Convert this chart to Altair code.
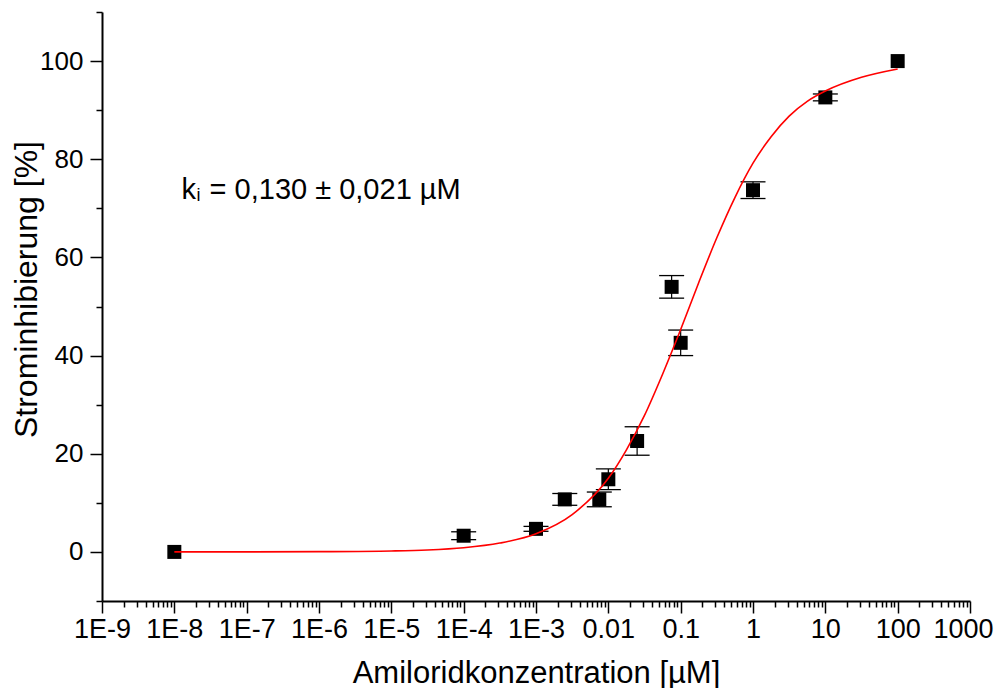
import altair as alt
import pandas as pd

# measured points (concentration in µM, inhibition in %, error)
conc = [1e-8, 1e-4, 1e-3, 2.5e-3, 7.5e-3, 1e-2, 2.5e-2, 7.5e-2, 1e-1, 1.0, 10.0, 100.0]
inhib = [0.0, 3.3, 4.7, 10.7, 10.7, 14.8, 22.6, 54.0, 42.6, 73.7, 92.6, 100.0]
err = [0.0, 0.8, 0.5, 1.2, 1.5, 2.1, 2.9, 2.3, 2.6, 1.7, 0.7, 0.0]

# fitted curve
fit_conc = [1e-8, 1e-7, 1e-6, 1e-5, 3.16e-5, 1e-4, 3.16e-4, 1e-3, 3.16e-3, 1e-2,
            1.78e-2, 3.16e-2, 5.62e-2, 0.1, 0.178, 0.316, 0.562, 1.0, 1.78,
            3.16, 5.62, 10.0, 31.6, 100.0]
fit_inhib = [0.0, 0.0, 0.05, 0.2, 0.4, 0.85, 1.8, 3.7, 7.6, 15.0,
             20.8, 27.8, 36.2, 45.3, 54.9, 64.0, 72.2, 79.2, 84.6,
             88.8, 91.8, 93.9, 96.7, 98.4]

x_major_ticks = [1e-9, 1e-8, 1e-7, 1e-6, 1e-5, 1e-4, 1e-3, 1e-2, 1e-1, 1.0, 10.0, 100.0, 1000.0]
x_tick_labels = ["1E-9", "1E-8", "1E-7", "1E-6", "1E-5", "1E-4", "1E-3",
                 "0.01", "0.1", "1", "10", "100", "1000"]
y_ticks = [-10, 0, 10, 20, 30, 40, 50, 60, 70, 80, 90, 100, 110]

annotation_main = "k"
annotation_sub = "i"
annotation_rest = "= 0,130 \u00b1 0,021 \u00b5M"

FONT = "Liberation Sans"

# minor ticks 2..9 per decade
x_tick_values = []
for m in x_major_ticks:
    x_tick_values.append(m)
    if m < 1000:
        for k in range(2, 10):
            x_tick_values.append(float(f"{m * k:.3g}"))

pts = pd.DataFrame({"conc": conc, "inhib": inhib, "err": err})
pts["lo"] = pts["inhib"] - pts["err"]
pts["hi"] = pts["inhib"] + pts["err"]
fit = pd.DataFrame({"conc": fit_conc, "inhib": fit_inhib})

is_major_x = "abs(log(datum.value)/LN10 - round(log(datum.value)/LN10)) < 0.001"
labels_js = "[" + ",".join(f"'{s}'" for s in x_tick_labels) + "]"
x_label_expr = f"({is_major_x}) ? {labels_js}[round(log(datum.value)/LN10)+9] : ''"

is_major_y = "datum.value % 20 == 0 && datum.value >= 0 && datum.value <= 100"

xscale = alt.Scale(type="log", domain=[1e-9, 1000], nice=False)
yscale = alt.Scale(domain=[-10, 110], nice=False, zero=False)

xaxis = alt.Axis(
    title="Amiloridkonzentration [µM]",
    values=x_tick_values,
    labelExpr=x_label_expr,
    tickSize={"condition": {"test": is_major_x, "value": 12}, "value": 6},
    tickWidth=1.5,
    tickColor="black",
    domainColor="black",
    domainWidth=2,
    labelFont=FONT,
    labelFontSize=27,
    labelOffset={"condition": {"test": "datum.value > 500", "value": -7}, "value": 0},
    labelColor="black",
    labelPadding=3,
    labelOverlap=False,
    labelFlush=False,
    titleFont=FONT,
    titleFontSize=31,
    titleFontWeight="normal",
    titleColor="black",
    titleY=81,
    titleBaseline="alphabetic",
    grid=False,
)

yaxis = alt.Axis(
    title="Strominhibierung [%]",
    values=y_ticks,
    labelExpr=f"({is_major_y}) ? datum.label : ''",
    tickSize={"condition": {"test": is_major_y, "value": 12}, "value": 6},
    tickWidth=1.5,
    tickColor="black",
    domainColor="black",
    domainWidth=2,
    labelFont=FONT,
    labelFontSize=26,
    labelColor="black",
    labelPadding=7,
    labelOverlap=False,
    labelFlush=False,
    titleFont=FONT,
    titleFontSize=32,
    titleFontWeight="normal",
    titleColor="black",
    titleX=-66,
    titleY=277,
    titleAngle=270,
    titleBaseline="alphabetic",
    grid=False,
)

base = alt.Chart(pts)

err_rule = base.transform_filter("datum.err > 0").mark_rule(color="black", strokeWidth=1.2).encode(
    x=alt.X("conc:Q", scale=xscale, axis=xaxis),
    y=alt.Y("lo:Q", scale=yscale, axis=yaxis),
    y2="hi:Q",
)
cap_lo = base.transform_filter("datum.err > 0").mark_tick(
    color="black", orient="horizontal", size=25, thickness=1.3, opacity=1
).encode(x="conc:Q", y="lo:Q")
cap_hi = base.transform_filter("datum.err > 0").mark_tick(
    color="black", orient="horizontal", size=25, thickness=1.3, opacity=1
).encode(x="conc:Q", y="hi:Q")

squares = base.mark_square(size=196, color="black", filled=True, opacity=1).encode(
    x="conc:Q", y="inhib:Q"
)

curve = alt.Chart(fit).mark_line(color="#ff0000", strokeWidth=1.6, interpolate="monotone").encode(
    x="conc:Q", y="inhib:Q"
)

ann = pd.DataFrame({"conc": [1.26e-8], "inhib": [72.0]})
t_k = alt.Chart(ann).mark_text(
    text=annotation_main, align="left", baseline="alphabetic", font=FONT, fontSize=29, color="black"
).encode(x="conc:Q", y="inhib:Q")
t_i = alt.Chart(ann).mark_text(
    text=annotation_sub, align="left", baseline="alphabetic", font=FONT, fontSize=18, color="black",
    dx=15, dy=2,
).encode(x="conc:Q", y="inhib:Q")
t_rest = alt.Chart(ann).mark_text(
    text=annotation_rest, align="left", baseline="alphabetic", font=FONT, fontSize=29, color="black",
    dx=28,
).encode(x="conc:Q", y="inhib:Q")

chart = alt.layer(err_rule, cap_lo, cap_hi, squares, curve, t_k, t_i, t_rest).properties(
    width=868,
    height=589,
    autosize=alt.AutoSizeParams(type="none"),
    padding={"left": 94, "top": 4, "right": 24, "bottom": 87},
    background="white",
).configure_view(stroke=None)

chart.save("out.html", embed_options={"renderer": "svg", "actions": False})
